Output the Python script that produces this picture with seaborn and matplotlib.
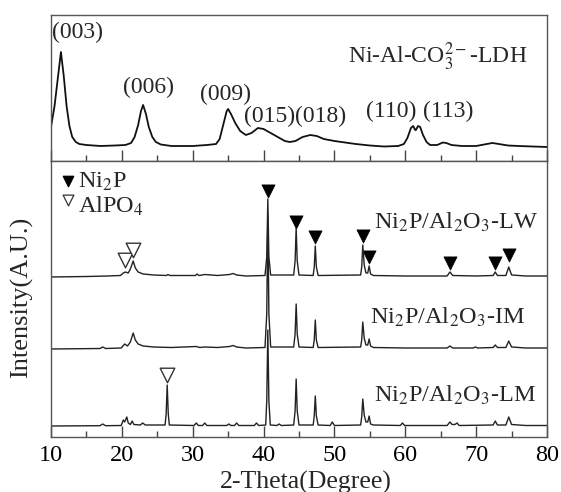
"""XRD: Ni-Al-CO3 LDH (top) and Ni2P/Al2O3 catalysts (bottom)."""
import numpy as np
import matplotlib
matplotlib.use("Agg")
import matplotlib.pyplot as plt
import seaborn as sns
from matplotlib.ticker import MultipleLocator

sns.set_style("white")
plt.rcParams['font.family'] = ['Liberation Serif', 'DejaVu Serif']
plt.rcParams['mathtext.fontset'] = 'stix'

# --- data (2-theta in degrees, intensity in a.u.) ---
ldh_tt = [10.0, 10.5, 11.0, 11.4, 11.8, 12.2, 12.6, 13.0, 13.5, 14.0, 15.0, 17.0, 19.0, 20.5,
          21.3, 21.8, 22.3, 22.7, 23.0, 23.4, 23.8, 24.3, 24.8, 25.5, 27.0, 30.0, 32.0, 33.3,
          33.8, 34.3, 34.8, 35.0, 35.4, 36.0, 36.7, 37.5, 38.3, 39.2, 40.0, 41.0, 42.0, 43.0,
          43.7, 44.5, 45.5, 46.6, 47.5, 48.5, 50.0, 51.5, 53.0, 55.0, 57.0, 59.0, 59.8, 60.3,
          60.8, 61.1, 61.4, 61.5, 61.8, 62.1, 62.5, 63.0, 63.5, 64.5, 65.3, 65.8, 66.5, 68.0,
          70.0, 71.5, 72.3, 73.2, 74.5, 76.0, 78.0, 80.0]
ldh_int = [34, 55, 85, 109, 85, 55, 35, 24, 19, 17, 16, 15, 15.5, 16,
           18, 24, 36, 50, 56, 47, 34, 24, 19, 16.5, 15, 15, 16, 17,
           22, 36, 50, 52, 47, 38, 30, 26, 28, 33, 32, 28, 24, 20,
           19, 20, 24, 26, 25, 22, 20, 18.5, 17, 15.5, 14.5, 15, 17, 23,
           33, 35, 31, 31, 35, 34, 26, 19, 16, 16, 18.5, 18, 16, 15,
           15, 17, 18, 17, 15.5, 15, 14.5, 14]

lw_tt = [10, 15, 18, 19.8, 20.2, 20.5, 20.9, 21.2, 21.6, 21.9, 22.3, 23, 24.5, 26.3, 26.5, 26.8,
         30.4, 30.6, 30.9, 31.7, 33.5, 35.2, 35.7, 36.2, 37.5, 40.2, 40.45, 40.6, 40.75, 41.0,
         44.25, 44.45, 44.6, 44.75, 45.0, 47.0, 47.15, 47.3, 47.45, 47.7, 53.7, 53.85, 54.0, 54.2,
         54.45, 54.7, 54.9, 55.1, 55.5, 60, 65.9, 66.3, 66.7, 70, 72.4, 72.7, 73, 74.2, 74.6,
         75.0, 77, 80]
lw_int = [0, 0.5, 1, 1.5, 4, 5, 4, 8, 16, 9, 5, 3, 2, 1.5, 2.5, 1.5,
          1.5, 3, 1.5, 2.5, 1.5, 2.5, 3.5, 2, 1, 1.5, 20, 78, 20, 2,
          2, 16, 49, 16, 2, 1.5, 10, 31, 10, 1.5, 2, 10, 32, 12,
          4, 4, 11, 3, 1.5, 1, 1, 5, 1.5, 1, 1.5, 5, 1.5, 1.5, 10,
          2, 1, 1]

im_tt = [10, 16.9, 17.3, 17.7, 19.9, 20.4, 20.8, 21.2, 21.6, 21.9, 22.3, 23, 24.5, 27, 30.5, 31,
         31.7, 33.5, 35.2, 35.7, 36.2, 37.5, 40.2, 40.45, 40.6, 40.75, 41.0, 44.25, 44.45, 44.6,
         44.75, 45, 47, 47.15, 47.3, 47.45, 47.7, 53.7, 53.85, 54.0, 54.2, 54.45, 54.7, 54.9,
         55.1, 55.5, 60, 65.9, 66.3, 66.7, 69.6, 69.9, 70.2, 72.4, 72.7, 73.0, 74.2, 74.6, 75,
         77, 80]
im_int = [0, 0.5, 2, 0.5, 1, 5, 3, 7, 16, 9, 5, 3, 2, 1.5, 2.5, 1.5,
          2, 1.5, 2.5, 3.5, 2, 1, 1.5, 35, 134, 35, 2, 2, 15, 45,
          15, 2, 1.5, 9, 29, 9, 1.5, 2, 9, 27, 11, 4, 4, 10,
          3, 1.5, 1, 1, 3, 1, 1, 2, 1, 1.5, 4, 1.5, 1.5, 8, 2,
          1, 1]

lm_tt = [10, 16.9, 17.3, 17.7, 19.9, 20.2, 20.4, 20.7, 20.9, 21.2, 21.45, 21.7, 22.6, 22.95,
         23.3, 26.1, 26.25, 26.4, 26.55, 26.7, 30.2, 30.5, 30.8, 31.4, 31.7, 32, 34.8, 35.1,
         35.4, 35.9, 36.2, 36.5, 38.7, 39.0, 39.3, 40.3, 40.45, 40.6, 40.75, 40.95, 41.9, 42.2,
         42.5, 44.25, 44.45, 44.6, 44.75, 45.0, 47.0, 47.15, 47.3, 47.45, 47.7, 49.4, 49.7,
         50.0, 53.7, 53.85, 54.0, 54.2, 54.45, 54.7, 54.9, 55.1, 55.5, 59.3, 59.6, 59.9, 65.9,
         66.3, 66.6, 67.0, 67.3, 67.6, 72.4, 72.7, 73.0, 74.2, 74.6, 75.0, 77, 80]
lm_int = [0, 0.3, 2, 0.3, 0.5, 6, 4, 9, 3, 1.5, 5, 1.5, 1, 3,
          1, 1, 12, 41, 12, 1, 0.5, 3, 0.5, 0.5, 3, 0.5, 0.5, 2,
          0.5, 0.5, 3, 0.5, 0.5, 3, 0.5, 1, 25, 96, 25, 1, 0.5, 2,
          0.5, 1, 15, 47, 15, 1, 1, 10, 30, 10, 1, 0.5, 4,
          0.5, 1, 9, 27, 11, 4, 4, 10, 2, 1, 0.5, 3, 0.5, 0.5,
          4, 1.5, 1.5, 3, 0.5, 1, 5, 1, 1, 9, 1.5, 0.5, 0.5]

samples = ['Ni$_2$P/Al$_2$O$_3$-LW', 'Ni$_2$P/Al$_2$O$_3$-IM', 'Ni$_2$P/Al$_2$O$_3$-LM']
offsets = [160, 88, 11]

# LDH reflections
hkl_labels = ['(003)', '(006)', '(009)', '(015)', '(018)', '(110)', '(113)']
hkl_tt = [13.8, 23.7, 34.6, 40.8, 48.1, 58.0, 66.0]
hkl_int = [129, 74, 67, 45, 45, 50, 50]

# phase markers (bottom panel coordinates)
ni2p_tt = [40.6, 44.6, 47.3, 54.0, 54.9, 66.3, 72.7, 74.6]
ni2p_y = [246, 215, 200, 201, 180, 174, 174, 182]
alpo4_tt = [20.4, 21.6, 26.4]
alpo4_y = [177, 187, 62]

fig = plt.figure(figsize=(5.61, 4.92), dpi=100)
ax_top = fig.add_axes([51/561, 1-161/492, 496/561, 146/492])
ax_bot = fig.add_axes([51/561, 1-437/492, 496/561, 276/492])

sns.lineplot(x=ldh_tt, y=ldh_int, ax=ax_top, color='#111111', lw=1.3, estimator=None, sort=False)
for tt, inten, off in zip([lw_tt, im_tt, lm_tt], [lw_int, im_int, lm_int], offsets):
    sns.lineplot(x=tt, y=np.array(inten) + off, ax=ax_bot, color='#222222', lw=1.0,
                 estimator=None, sort=False)

sns.scatterplot(x=ni2p_tt, y=ni2p_y, ax=ax_bot, marker='v', s=90, color='black',
                edgecolor='black', linewidth=0.5)
sns.scatterplot(x=alpo4_tt, y=alpo4_y, ax=ax_bot, marker='v', s=110, facecolor='white',
                edgecolor='#333333', linewidth=1.0)

# manual legend
ax_bot.scatter([12.4], [256], marker='v', s=55, color='black')
ax_bot.scatter([12.4], [237], marker='v', s=60, facecolor='white', edgecolor='#333333', linewidth=0.9)
ax_bot.text(13.8, 255, 'Ni$_2$P', fontsize=17.5, va='center', ha='left')
ax_bot.text(13.8, 231, 'AlPO$_4$', fontsize=17.5, va='center', ha='left')

for lab, t, y in zip(hkl_labels, hkl_tt, hkl_int):
    ax_top.text(t, y, lab, fontsize=17, ha='center', va='center')
ax_top.text(64.6, 104, 'Ni-Al-CO$_3^{2-}$-LDH', fontsize=17, ha='center', va='center')

for lab, t, y in zip(samples, [67.2, 66.0, 67.0], [215, 120, 42]):
    ax_bot.text(t, y, lab, fontsize=17.5, ha='center', va='center')

for ax in (ax_top, ax_bot):
    ax.set_xlim(10, 80)
    ax.xaxis.set_major_locator(MultipleLocator(10))
    ax.xaxis.set_minor_locator(MultipleLocator(5))
    ax.tick_params(axis='x', which='both', direction='in', bottom=True, top=False,
                   colors='#444444', labelcolor='black', labelsize=17.5, pad=6)
    ax.tick_params(axis='x', which='major', length=8, width=1)
    ax.tick_params(axis='x', which='minor', length=4, width=1)
    ax.set_yticks([])
    ax.set_ylabel('')
    for sp in ax.spines.values():
        sp.set_color('#555555')
        sp.set_linewidth(1.0)

ax_top.set_ylim(0, 146)
ax_top.tick_params(axis='x', labelbottom=False)
ax_bot.set_ylim(0, 276)
ax_bot.set_xlabel('')
fig.text(306/561, 1-482/492, '2-Theta(Degree)', fontsize=18.5, ha='center', va='center')
fig.text(22/561, 1-297/492, 'Intensity(A.U.)', rotation=90, fontsize=19, ha='center', va='center')

fig.savefig('out.png', dpi=100)
